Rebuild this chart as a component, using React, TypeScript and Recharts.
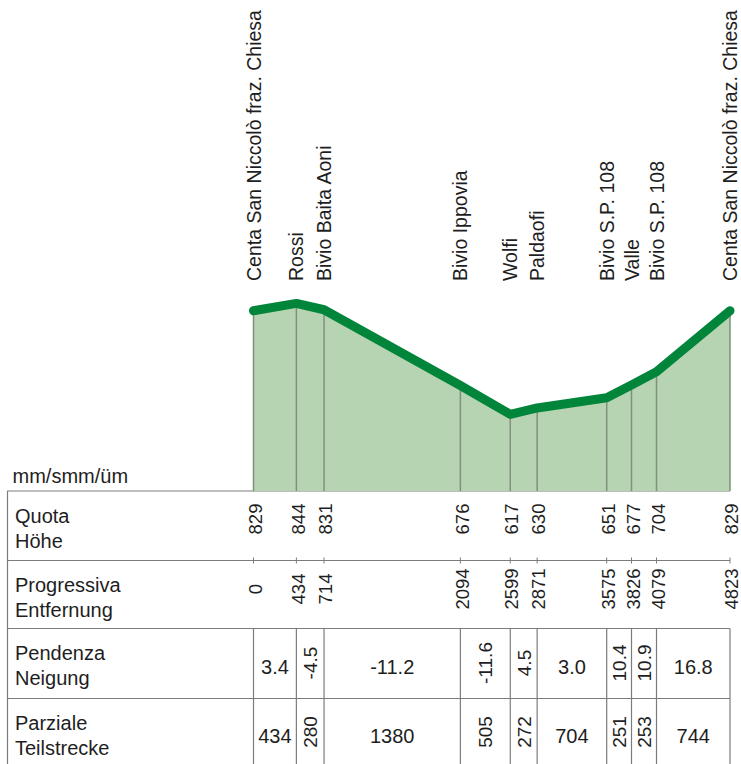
import { ComposedChart, Area, Line, XAxis, YAxis, ReferenceLine, ReferenceArea } from "recharts"

const stations = [
  "Centa San Niccolò fraz. Chiesa",
  "Rossi",
  "Bivio Baita Aoni",
  "Bivio Ippovia",
  "Wolfi",
  "Paldaofi",
  "Bivio S.P. 108",
  "Valle",
  "Bivio S.P. 108",
  "Centa San Niccolò fraz. Chiesa",
]
const distances = [0, 434, 714, 2094, 2599, 2871, 3575, 3826, 4079, 4823]
const elevations = [829, 844, 831, 676, 617, 630, 651, 677, 704, 829]
const slopes = ["3.4", "-4.5", "-11.2", "-11.6", "4.5", "3.0", "10.4", "10.9", "16.8"]
const partials = ["434", "280", "1380", "505", "272", "704", "251", "253", "744"]
const rowLabels = [
  ["Quota", "Höhe"],
  ["Progressiva", "Entfernung"],
  ["Pendenza", "Neigung"],
  ["Parziale", "Teilstrecke"],
]
const unitLabel = "mm/smm/üm"

const W = 741
const H = 764
const PLOT_LEFT = 253.5
const PLOT_RIGHT = 730
const PLOT_TOP = 149
const PLOT_BOTTOM = 491
const ROWS = [491, 560.5, 628.5, 698.5, 764]
const FONT = "'Liberation Sans', Arial, Helvetica, sans-serif"
const TEXT = "#1e1e1e"
const GRID = "#7c7c7c"

const profile = distances.map((d, i) => ({ dist: d, elev: elevations[i] }))

// rough Arial advance widths, enough to decide if a value fits a segment
const textWidth = (s: string, size: number) =>
  s.split("").reduce((w, c) => w + (c === "." ? 0.278 : c === "-" ? 0.333 : 0.556), 0) * size

const StationLabel = (i: number) => (props: any) => {
  const x = props.viewBox.x
  return (
    <g fontFamily={FONT} fill={TEXT}>
      <text transform={`translate(${x},281) rotate(-90)`} dy="0.36em" fontSize={19.5}>
        {stations[i]}
      </text>
      <text transform={`translate(${x + 1.5},519) rotate(-90)`} dy="0.36em" fontSize={18.5} textAnchor="middle">
        {elevations[i]}
      </text>
      <text transform={`translate(${x + 1.5},589) rotate(-90)`} dy="0.36em" fontSize={18.5} textAnchor="middle">
        {distances[i]}
      </text>
      <line x1={x} x2={x} y1={ROWS[1] - 3} y2={ROWS[1] + 3} stroke={GRID} strokeWidth={1} />
      <line x1={x} x2={x} y1={ROWS[2]} y2={H} stroke={GRID} strokeWidth={1.2} />
    </g>
  )
}

const SegmentLabel = (i: number) => (props: any) => {
  const { x, width } = props.viewBox
  const cx = x + width / 2
  const fits = Math.max(textWidth(slopes[i], 20), textWidth(partials[i], 20)) + 8 <= width
  if (fits) {
    return (
      <g fontFamily={FONT} fill={TEXT} fontSize={20} textAnchor="middle">
        <text x={cx} y={673.5}>{slopes[i]}</text>
        <text x={cx} y={742.5}>{partials[i]}</text>
      </g>
    )
  }
  return (
    <g fontFamily={FONT} fill={TEXT} fontSize={19} textAnchor="middle">
      <text transform={`translate(${cx},663) rotate(-90)`} dy="0.36em">{slopes[i]}</text>
      <text transform={`translate(${cx},732) rotate(-90)`} dy="0.36em">{partials[i]}</text>
    </g>
  )
}

function TableFrame() {
  return (
    <svg width={W} height={H} style={{ position: "absolute", left: 0, top: 0 }}>
      <g stroke={GRID} strokeWidth={1.2}>
        {ROWS.slice(0, 4).map((y) => (
          <line key={y} x1={7} x2={PLOT_RIGHT} y1={y} y2={y} />
        ))}
        <line x1={7.5} x2={7.5} y1={ROWS[0]} y2={H} />
      </g>
      <g fontFamily={FONT} fill={TEXT} fontSize={20}>
        <text x={12.5} y={483}>{unitLabel}</text>
        {rowLabels.map((lines, r) => (
          <g key={r}>
            <text x={15} y={ROWS[r] + 31.5}>{lines[0]}</text>
            <text x={15} y={ROWS[r] + 56.5}>{lines[1]}</text>
          </g>
        ))}
      </g>
    </svg>
  )
}

export default function App() {
  return (
    <div style={{ position: "absolute", left: 0, top: 0, width: W, height: H, background: "#fff" }}>
      <TableFrame />
      <div style={{ position: "absolute", left: 0, top: 0 }}>
        <ComposedChart
          width={W}
          height={H}
          data={profile}
          margin={{ top: PLOT_TOP, right: W - PLOT_RIGHT, bottom: H - PLOT_BOTTOM, left: PLOT_LEFT }}
        >
          <XAxis type="number" dataKey="dist" domain={[0, 4823]} hide />
          <YAxis type="number" domain={[460, 1160]} hide />
          <Area
            type="linear"
            dataKey="elev"
            stroke="none"
            fill="#b6d4b1"
            fillOpacity={1}
            isAnimationActive={false}
          />
          {distances.map((d, i) => (
            <ReferenceLine
              key={`st-${i}`}
              segment={[
                { x: d, y: 460 },
                { x: d, y: elevations[i] },
              ]}
              stroke="#7f907d"
              strokeWidth={1.5}
              label={StationLabel(i)}
            />
          ))}
          {distances.slice(0, -1).map((d, i) => (
            <ReferenceArea
              key={`seg-${i}`}
              x1={d}
              x2={distances[i + 1]}
              fill="none"
              fillOpacity={0}
              stroke="none"
              label={SegmentLabel(i)}
            />
          ))}
          <Line
            type="linear"
            dataKey="elev"
            stroke="#00853a"
            strokeWidth={9}
            strokeLinecap="round"
            strokeLinejoin="round"
            dot={false}
            activeDot={false}
            isAnimationActive={false}
          />
        </ComposedChart>
      </div>
    </div>
  )
}
